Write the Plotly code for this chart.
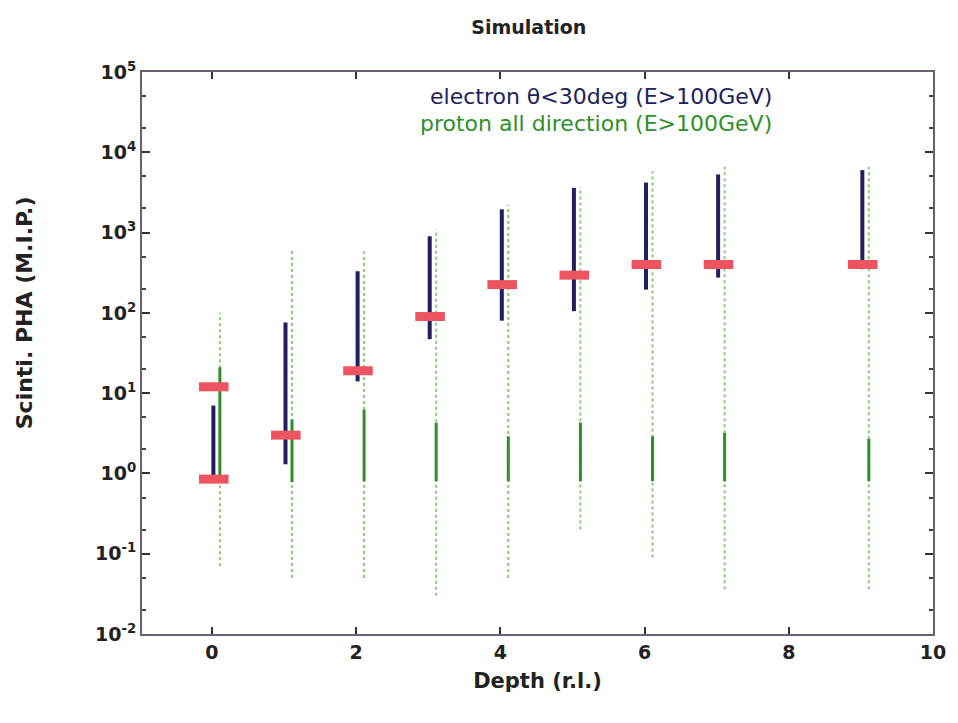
import plotly.graph_objects as go

# ---- data ----
depth = [0, 1, 2, 3, 4, 5, 6, 7, 9]
# electron (theta<30deg) full vertical range
e_low = [0.9, 1.3, 14, 47, 80, 105, 195, 275, 350]
e_high = [7, 76, 330, 900, 1950, 3600, 4200, 5300, 6000]
# proton, dense part
p_dense_low = [0.8, 0.78, 0.8, 0.8, 0.8, 0.8, 0.8, 0.8, 0.8]
p_dense_high = [21, 4.7, 6.2, 4.3, 2.9, 4.3, 2.9, 3.2, 2.7]
# proton, sparse tails
p_sparse_low = [0.07, 0.05, 0.05, 0.03, 0.05, 0.2, 0.09, 0.036, 0.036]
p_sparse_high = [100, 600, 580, 1100, 2200, 3700, 5800, 6600, 6600]
# red threshold marks
thr_depth = [0, 0, 1, 2, 3, 4, 5, 6, 7, 9]
thr_value = [12, 0.85, 3, 19, 90, 225, 295, 400, 400, 400]
# tick labels
x_ticks = [0, 2, 4, 6, 8, 10]
y_exps = [-2, -1, 0, 1, 2, 3, 4, 5]
y_ticktext = ["10<sup>%d</sup>" % e for e in y_exps]

E_OFF = 0.02
P_OFF = 0.11
BAR_L, BAR_R = -0.18, 0.23

NAVY = "#20205e"
GREEN_D = "#2f8f2a"
GREEN_L = "#8cc878"
RED = "#ec5560"
TXT = "#222222"


def segs(xs, lo, hi, off):
    X, Y = [], []
    for x, a, b in zip(xs, lo, hi):
        X += [x + off, x + off, None]
        Y += [a, b, None]
    return X, Y


fig = go.Figure()

x, y = segs(depth, p_sparse_low, p_sparse_high, P_OFF)
fig.add_trace(go.Scatter(x=x, y=y, mode="lines",
                         line=dict(color=GREEN_L, width=2, dash="dot"),
                         showlegend=False, hoverinfo="skip"))
x, y = segs(depth, p_dense_low, p_dense_high, P_OFF)
fig.add_trace(go.Scatter(x=x, y=y, mode="lines",
                         line=dict(color=GREEN_D, width=3),
                         showlegend=False, hoverinfo="skip"))
x, y = segs(depth, e_low, e_high, E_OFF)
fig.add_trace(go.Scatter(x=x, y=y, mode="lines",
                         line=dict(color=NAVY, width=4),
                         showlegend=False, hoverinfo="skip"))

bx, by = [], []
for d, v in zip(thr_depth, thr_value):
    bx += [d + BAR_L, d + BAR_R, None]
    by += [v, v, None]
fig.add_trace(go.Scatter(x=bx, y=by, mode="lines",
                         line=dict(color=RED, width=9),
                         showlegend=False, hoverinfo="skip"))

font = "DejaVu Sans, Liberation Sans, Arial, sans-serif"

fig.update_layout(
    width=950, height=715,
    margin=dict(l=134, r=18, t=64, b=89),
    paper_bgcolor="white", plot_bgcolor="white",
    title=dict(text="Simulation", xref="paper", x=0.489, xanchor="center",
               y=0.973, yanchor="middle",
               font=dict(family=font, size=19, color=TXT, weight="bold")),
    font=dict(family=font, size=19, color=TXT),
)

fig.update_xaxes(
    range=[-0.97, 10], tickvals=x_ticks,
    ticks="inside", ticklen=7, tickwidth=2, tickcolor="#333",
    showline=True, linecolor="#6a6070", linewidth=2, mirror="ticks",
    showgrid=False, zeroline=False,
    tickfont=dict(family=font, size=19, color=TXT, weight="bold"),
    title=dict(text="Depth (r.l.)", standoff=12,
               font=dict(family=font, size=21, color=TXT, weight="bold")),
)
fig.update_yaxes(
    type="log", range=[-2, 5],
    tickvals=[10.0 ** e for e in y_exps], ticktext=y_ticktext,
    ticks="inside", ticklen=8, tickwidth=2, tickcolor="#333",
    minor=dict(ticks="inside", ticklen=4, tickcolor="#444", showgrid=False),
    showline=True, linecolor="#6a6070", linewidth=2, mirror="ticks",
    showgrid=False, zeroline=False,
    tickfont=dict(family=font, size=19, color=TXT, weight="bold"),
)

fig.add_annotation(text="Scinti. PHA (M.I.P.)", xref="paper", yref="paper",
                   x=-0.149, y=0.571, textangle=-90, showarrow=False,
                   xanchor="center", yanchor="middle",
                   font=dict(family=font, size=22, color=TXT, weight="bold"))

fig.add_annotation(text="electron θ<30deg (E>100GeV)", xref="x", yref="paper",
                   x=7.8, y=0.957, xanchor="right", yanchor="middle",
                   showarrow=False, font=dict(family=font, size=22, color=NAVY))
fig.add_annotation(text="proton all direction (E>100GeV)", xref="x", yref="paper",
                   x=7.8, y=0.909, xanchor="right", yanchor="middle",
                   showarrow=False, font=dict(family=font, size=22, color=GREEN_D))

fig.write_html("out.html")
